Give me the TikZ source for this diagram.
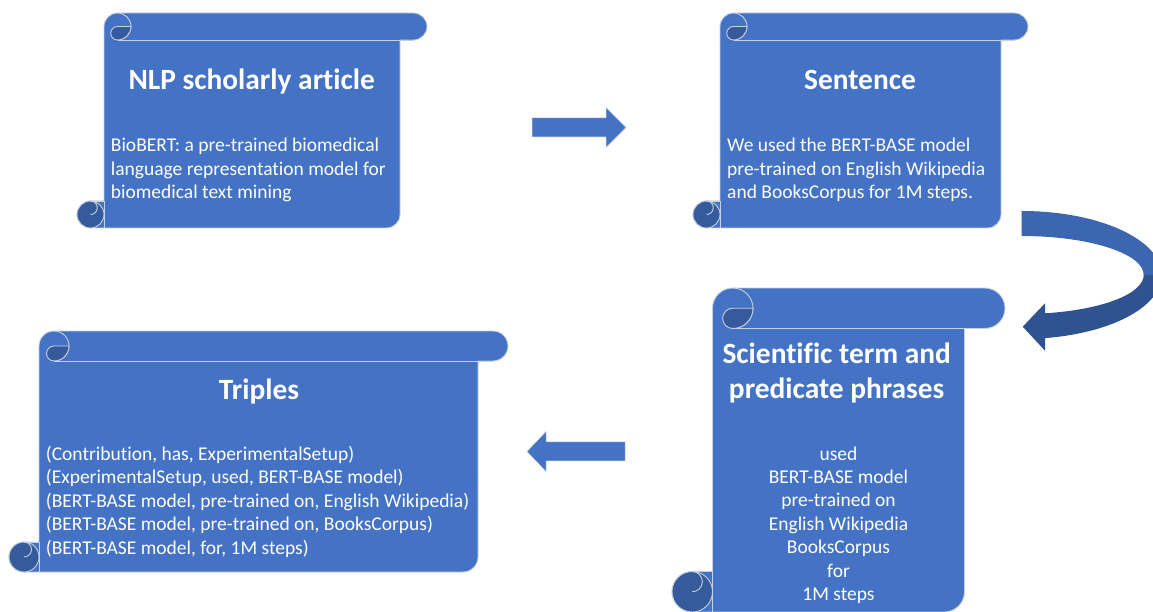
\documentclass[tikz,border=0pt]{standalone}
\usepackage{fontspec}
\setmainfont{Carlito}[Ligatures=NoCommon]
\definecolor{scrollfill}{HTML}{4472C4}
\definecolor{scrolldark}{HTML}{365B9D}
\definecolor{scrollline}{HTML}{C8D0DE}
\definecolor{curvelight}{HTML}{3D66B0}
\definecolor{curvedark}{HTML}{2F5291}
\newcommand\bodyfont{\fontsize{19.5}{23.4}\selectfont}
\newcommand\titlefont{\fontsize{29.4}{35}\selectfont\bfseries}
\tikzset{
  scrollbody/.style={fill=scrollfill, draw=scrollline, line width=0.9pt, line join=round},
  scrollstroke/.style={draw=scrollline, line width=0.9pt},
  curlshade/.style={fill=scrolldark, draw=scrollline, line width=0.9pt},
  blockarrow/.style={fill=scrollfill, draw=scrollline, line width=0.5pt},
  titletext/.style={text=white, inner sep=0pt, anchor=base, font=\titlefont},
  bodyleft/.style={text=white, inner sep=0pt, anchor=base west},
  bodycenter/.style={text=white, inner sep=0pt, anchor=base},
}
% #1 left, #2 top, #3 right, #4 bottom (screen pixels), #5 roll thickness
\newcommand\myscroll[5]{%
  \pgfmathsetmacro\sL{#1}\pgfmathsetmacro\sT{-(#2)}%
  \pgfmathsetmacro\sR{#3}\pgfmathsetmacro\sB{-(#4)}%
  \pgfmathsetmacro\sC{#5}\pgfmathsetmacro\sH{#5/2}\pgfmathsetmacro\sQ{#5/4}%
  \pgfmathsetmacro\cxA{\sL+\sC+\sH}\pgfmathsetmacro\cyA{\sT-\sH}%
  \pgfmathsetmacro\cxB{\sL+\sH}\pgfmathsetmacro\cyB{\sB+\sH}%
  \filldraw[scrollbody] (\sL+\sC,\cyA) arc[start angle=180,end angle=90,radius=\sH]
    -- (\sR-\sH,\sT) arc[start angle=90,end angle=-90,radius=\sH]
    -- (\sR-\sC,\sT-\sC) -- (\sR-\sC,\sB+\sH) arc[start angle=0,end angle=-90,radius=\sH]
    -- (\cxB,\sB) arc[start angle=-90,end angle=-270,radius=\sH]
    -- (\sL+\sC,\sB+\sC) -- cycle;
  % top curl
  \draw[scrollstroke] (\cxA,\sT-\sC) -- (\sR-\sH,\sT-\sC);
  \draw[scrollstroke] (\cxA,\sT) arc[start angle=90,end angle=-90,radius=\sH];
  \filldraw[curlshade] (\cxA,\cyA) -- (\cxA+\sH,\cyA) arc[start angle=0,end angle=-90,radius=\sH]
    arc[start angle=-90,end angle=-270,radius=\sQ] -- cycle;
  % bottom curl
  \filldraw[curlshade] (\cxB,\cyB) circle[radius=\sH];
  \draw[scrollstroke] (\cxB,\sB+\sC) -- (\sL+\sC,\sB+\sC) -- (\sL+\sC,\sB);
  \draw[scrollstroke] (\cxB,\sB+\sC) arc[start angle=90,end angle=-90,radius=\sQ];
}
\begin{document}
\begin{tikzpicture}[x=1pt,y=1pt]
\useasboundingbox (0,0) rectangle (1153,-612);
\clip (0,0) rectangle (1153,-612);

% scrolls
\myscroll{77}{13}{427}{228}{27}
\myscroll{693}{13}{1028}{228}{27}
\myscroll{672}{288}{1005}{612}{40.5}
\myscroll{9}{331}{508}{572}{30}

% texts
\node[titletext] (nlptitle) at (251.7,-90) {NLP scholarly article};
\node[bodyleft] (nlpbody) at (110.7,-151.7) {\parbox[t]{300pt}{\bodyfont\raggedright BioBERT: a pre-trained biomedical\\language representation model for\\biomedical text mining}};

\node[titletext] (senttitle) at (860,-90) {Sentence};
\node[bodyleft] (sentbody) at (727,-151.7) {\parbox[t]{300pt}{\bodyfont\raggedright We used the BERT-BASE model\\pre-trained on English Wikipedia\\and BooksCorpus for 1M steps.}};

\node[titletext] (scititle) at (836.7,-363.5) {\parbox[t]{300pt}{\centering\titlefont Scientific term and\\predicate phrases}};
\node[bodycenter] (scibody) at (838.5,-460) {\parbox[t]{240pt}{\centering\bodyfont used\\BERT-BASE model\\pre-trained on\\English Wikipedia\\BooksCorpus\\for\\1M steps}};

\node[titletext] (tripletitle) at (259,-399.5) {Triples};
\node[bodyleft] (triplebody) at (45.7,-460.5) {\parbox[t]{440pt}{\bodyfont\raggedright (Contribution, has, ExperimentalSetup)\\(ExperimentalSetup, used, BERT-BASE model)\\(BERT-BASE model, pre-trained on, English Wikipedia)\\(BERT-BASE model, pre-trained on, BooksCorpus)\\(BERT-BASE model, for, 1M steps)}};

% straight block arrows
\filldraw[blockarrow] (532,-118) -- (606,-118) -- (606,-107.5) -- (626,-127.5) -- (606,-147.5) -- (606,-137) -- (532,-137) -- cycle;
\filldraw[blockarrow] (625,-441.8) -- (546,-441.8) -- (546,-431.5) -- (527,-451.5) -- (546,-471.5) -- (546,-460.8) -- (625,-460.8) -- cycle;

% curved arrow
\fill[curvelight] (1021.7,-211) arc[start angle=90,end angle=0,x radius=140,y radius=64]
  -- (1143.7,-275) arc[start angle=0,end angle=90,x radius=122,y radius=39] -- cycle;
\fill[curvedark] (1161.7,-275) arc[start angle=0,end angle=-80.42,x radius=140,y radius=64]
  -- (1045,-350.7) -- (1022.7,-326.7) -- (1045,-303.3) -- (1045,-313.3)
  arc[start angle=-78.99,end angle=0,x radius=122,y radius=39] -- cycle;
\end{tikzpicture}
\end{document}
